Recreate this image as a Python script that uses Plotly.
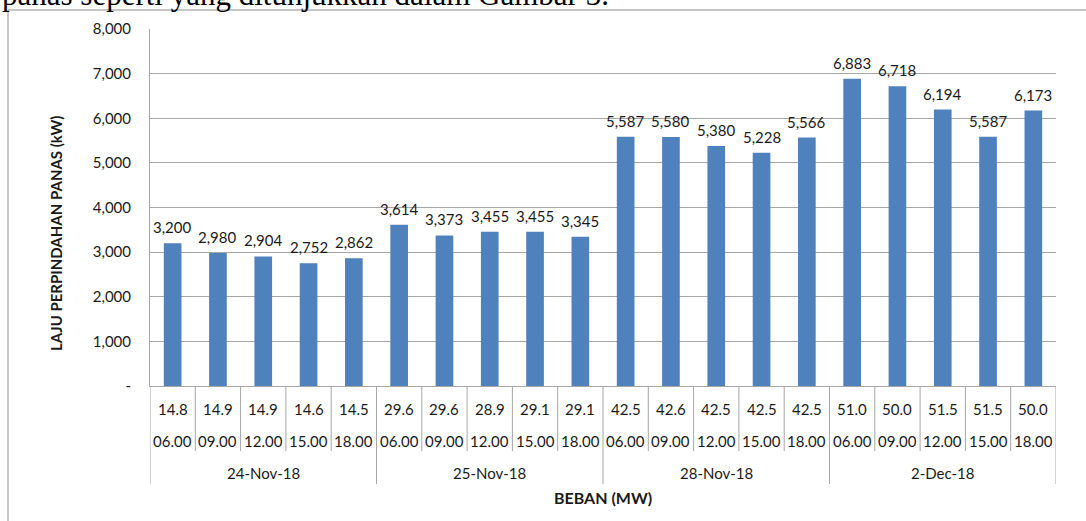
import plotly.graph_objects as go

# data
loads = [14.8, 14.9, 14.9, 14.6, 14.5,
         29.6, 29.6, 28.9, 29.1, 29.1,
         42.5, 42.6, 42.5, 42.5, 42.5,
         51.0, 50.0, 51.5, 51.5, 50.0]
times = ["06.00", "09.00", "12.00", "15.00", "18.00"] * 4
dates = ["24-Nov-18", "25-Nov-18", "28-Nov-18", "2-Dec-18"]
heat = [3200, 2980, 2904, 2752, 2862,
        3614, 3373, 3455, 3455, 3345,
        5587, 5580, 5380, 5228, 5566,
        6883, 6718, 6194, 5587, 6173]
y_ticks = [0, 1000, 2000, 3000, 4000, 5000, 6000, 7000, 8000]

FONT = "Lato"
TXT = "#1a1a1a"
GRID = "#a6a6a6"
W, H = 1086, 521
ML, MR, MT, MB = 150, 30, 29, 135
ph = H - MT - MB
pw = W - ML - MR


def py(pix):
    # pixel row -> paper y
    return (H - MB - pix) / ph


def px_(pix):
    return (pix - ML) / pw


def label(x, y, text, size=15, xref="x", **kw):
    return dict(x=x, y=y, xref=xref, yref="paper", text=text, showarrow=False,
                xanchor="center", yanchor="middle",
                font=dict(size=size, color=TXT, family=FONT), **kw)


idx = list(range(len(heat)))
per_group = len(heat) // len(dates)

fig = go.Figure()
fig.add_trace(go.Bar(x=idx, y=heat, width=0.39, marker_color="#4f81bd",
                     marker_line_width=0, hoverinfo="skip"))

ann = []
# value labels
for i, v in zip(idx, heat):
    ann.append(dict(x=i, y=v, xref="x", yref="y", text=f"{v:,}", showarrow=False,
                    xanchor="center", yanchor="middle", yshift=16,
                    font=dict(size=15, color=TXT, family=FONT)))
# category rows
for i in idx:
    ann.append(label(i, py(409), f"{loads[i]:.1f}"))
    ann.append(label(i, py(441), times[i]))
for g, d in enumerate(dates):
    ann.append(label(g * per_group + (per_group - 1) / 2, py(473), d))
# axis titles
ann.append(label(0.5, py(497), "<b>BEBAN (MW)</b>", size=16, xref="paper"))
ann.append(label(px_(56), py(234), "<b>LAJU PERPINDAHAN PANAS (kW)</b>", xref="paper",
                 textangle=-90))
# clipped sentence from the page above the chart
ann.append(dict(x=px_(0), y=py(14), xref="paper", yref="paper", xanchor="left", yanchor="bottom",
                text="panas seperti yang ditunjukkan dalam Gambar 3.", showarrow=False,
                font=dict(size=31, color="black", family="Liberation Serif")))

shapes = []
# category dividers
for k in range(len(heat) + 1):
    long_line = k % per_group == 0
    shapes.append(dict(type="line", xref="x", yref="paper", x0=k - 0.5, x1=k - 0.5,
                       y0=0, y1=py(484) if long_line else py(451),
                       line=dict(color=GRID, width=1)))
# chart area border
shapes.append(dict(type="rect", xref="paper", yref="paper", x0=px_(8), x1=px_(1095),
                   y0=py(540), y1=py(10), line=dict(color="#8c8c8c", width=1),
                   fillcolor="rgba(0,0,0,0)", layer="below"))

fig.update_layout(
    width=W, height=H,
    margin=dict(l=ML, r=MR, t=MT, b=MB),
    paper_bgcolor="white", plot_bgcolor="white",
    showlegend=False,
    annotations=ann, shapes=shapes,
    xaxis=dict(range=[-0.5, len(heat) - 0.5], showticklabels=False, showgrid=False,
               zeroline=False, showline=True, linecolor=GRID, linewidth=1, ticks=""),
    yaxis=dict(range=[0, 8000], tickvals=y_ticks,
               ticktext=["-"] + [f"{t:,}" for t in y_ticks[1:]],
               showgrid=True, gridcolor=GRID, gridwidth=1, zeroline=False,
               showline=True, linecolor=GRID, linewidth=1, ticks="",
               ticklabelstandoff=15,
               tickfont=dict(size=15, color=TXT, family=FONT)),
)

fig.write_html("out.html", config={"displayModeBar": False},
               post_script="document.body.style.margin='0';")
